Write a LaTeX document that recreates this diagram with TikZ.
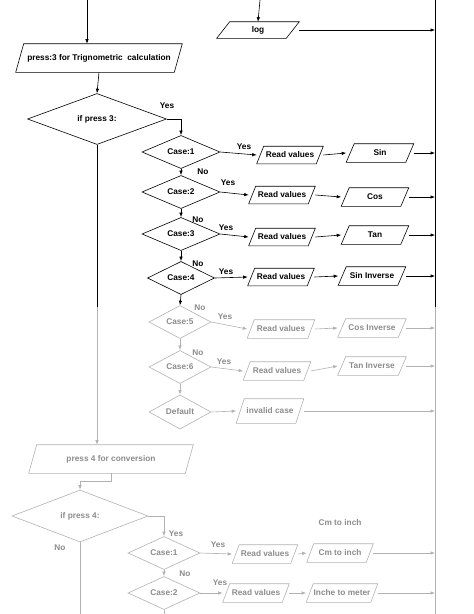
\documentclass[tikz,border=0pt]{standalone}
\usepackage{fontspec}
\setmainfont{Liberation Sans}
\usetikzlibrary{shapes.geometric,arrows.meta}
\begin{document}
\begin{tikzpicture}[x=1pt,y=-1pt,line width=0.6pt,>={Latex[length=4.5pt,width=3.5pt]},
		font=\fontsize{8.3}{9}\selectfont\bfseries,
		iobox/.style={inner sep=0pt, minimum width=66pt, minimum height=17pt,
			append after command={\pgfextra{\draw (\tikzlastnode.south west) -- ([xshift=#1]\tikzlastnode.north west) -- (\tikzlastnode.north east) -- ([xshift=-#1]\tikzlastnode.south east) -- cycle;}}},
		iobox/.default=7pt]
		\tikzstyle{decision}=[draw, diamond, inner sep=0pt, minimum width=78pt, minimum height=28pt]
		\tikzstyle{lbl}=[inner sep=0pt]
		\tikzstyle{faded}=[draw=black!30, text=black!45]
		\useasboundingbox (0,0) rectangle (474,614);
		\coordinate (topL) at (87,0);
		\coordinate (topM) at (260,0);
		\coordinate (rTop) at (435,0);
		\coordinate (rMid) at (435,307);
		\coordinate (rBot) at (435,614);
		\coordinate (fadeL) at (97,307);
		% trigonometric menu
		\node [iobox=8pt, minimum width=166pt, minimum height=28pt] (press3) at (99,58) {press:3 for Trignometric\ \ calculation};
		\node [decision, minimum width=139pt, minimum height=51pt] (ifp3) at (97,119) {if press 3:};
		\node [iobox=13pt, minimum width=82pt, minimum height=16pt] (log) at (258,30) {log};
		\node [decision] (case1) at (181,152) {Case:1};
		\node [decision] (case2) at (181,192) {Case:2};
		\node [decision, minimum height=32pt] (case3) at (181,234) {Case:3};
		\node [decision, minimum width=67pt, minimum height=33pt] (case4) at (181,278) {Case:4};
		\node [iobox] (rv1) at (290,155) {Read values};
		\node [iobox] (rv2) at (282,195) {Read values};
		\node [iobox] (rv3) at (282,237) {Read values};
		\node [iobox] (rv4) at (281,277) {Read values};
		\node [iobox=8pt, minimum width=67pt, minimum height=18pt] (sin) at (380,153) {Sin};
		\node [iobox=8pt, minimum width=67pt, minimum height=18pt] (cos) at (375,197) {Cos};
		\node [iobox=8pt, minimum width=67pt, minimum height=18pt] (tan) at (375,235) {Tan};
		\node [iobox=8pt, minimum width=67pt, minimum height=18pt] (sininv) at (372,276) {Sin Inverse};
		\draw [->] (topL) -- (topL |- press3.north);
		\draw [->] (press3.south) -- (ifp3.north);
		\draw [->] (topM) -- (log.north);
		\draw [->] (log.east) -- (log.east -| rTop);
		\draw (rTop) -- (rMid);
		\draw [->] (ifp3.east) -| (case1.north);
		\draw (ifp3.south) -- (fadeL);
		\node [lbl] (yes0) at (167,106) {Yes};
		\draw [->] (case1.south) -- (case2.north);
		\draw [->] (case2.south) -- (case3.north);
		\draw [->] (case3.south) -- (case4.north);
		\node [lbl] (no1) at (203,172) {No};
		\node [lbl] (no2) at (198,220) {No};
		\node [lbl] (no3) at (198,264) {No};
		\node [lbl] (yes1) at (244,147) {Yes};
		\node [lbl] (yes2) at (228,183) {Yes};
		\node [lbl] (yes3) at (226,228) {Yes};
		\node [lbl] (yes4) at (226,272) {Yes};
		\draw [->] (case1.east) -- (rv1.west);
		\draw [->] (case2.east) -- (rv2.west);
		\draw [->] (case3.east) -- (rv3.west);
		\draw [->] (case4.east) -- (rv4.west);
		\draw [->] (rv1.east) -- (sin.west);
		\draw [->] (rv2.east) -- (cos.west);
		\draw [->] (rv3.east) -- (tan.west);
		\draw [->] (rv4.east) -- (sininv.west);
		\draw [->] (sin.east) -- (sin.east -| rTop);
		\draw [->] (cos.east) -- (cos.east -| rTop);
		\draw [->] (tan.east) -- (tan.east -| rTop);
		\draw [->] (sininv.east) -- (sininv.east -| rTop);
		% faded lower half
		\begin{scope}[faded]
		\node [decision, minimum width=62pt, minimum height=32pt] (case5) at (180,322) {Case:5};
		\node [decision, minimum width=62pt, minimum height=32pt] (case6) at (180,367) {Case:6};
		\node [decision, minimum width=62pt, minimum height=32pt] (dflt) at (180,412) {Default};
		\node [iobox, minimum width=67pt, minimum height=18pt] (rv5) at (281,329) {Read values};
		\node [iobox, minimum width=67pt, minimum height=18pt] (rv6) at (277,371) {Read values};
		\node [iobox=8pt, minimum width=68pt, minimum height=18pt] (cosinv) at (372,328) {Cos Inverse};
		\node [iobox=8pt, minimum width=68pt, minimum height=18pt] (taninv) at (372,366) {Tan Inverse};
		\node [iobox=8pt, minimum width=67pt, minimum height=24pt] (inv) at (270,411) {invalid case};
		\node [lbl] (no4) at (200,308) {No};
		\node [lbl] (no5) at (198,353) {No};
		\node [lbl] (yes5) at (225,317) {Yes};
		\node [lbl] (yes6) at (224,362) {Yes};
		\draw [->] (case5.south) -- (case6.north);
		\draw [->] (case6.south) -- (dflt.north);
		\draw [->] (case5.east) -- (rv5.west);
		\draw [->] (case6.east) -- (rv6.west);
		\draw [->] (dflt.east) -- (inv.west);
		\draw [->] (rv5.east) -- (cosinv.west);
		\draw [->] (rv6.east) -- (taninv.west);
		\draw [->] (cosinv.east) -- (cosinv.east -| rTop);
		\draw [->] (taninv.east) -- (taninv.east -| rTop);
		\draw [->] (inv.east) -- (inv.east -| rTop);
		\draw (rMid) -- (rBot);
		% conversion menu
		\node [iobox=8pt, minimum width=164pt, minimum height=28pt] (press4) at (111,459) {press 4 for conversion};
		\node [decision, minimum width=136pt, minimum height=52pt] (ifp4) at (80,516) {if press 4:};
		\node [decision, minimum width=72pt, minimum height=27pt] (bcase1) at (164,553) {Case:1};
		\node [decision, minimum width=72pt, minimum height=27pt] (bcase2) at (164,593) {Case:2};
		\node [iobox, minimum width=65pt, minimum height=18pt] (brv1) at (265,554) {Read values};
		\node [iobox, minimum width=66pt, minimum height=18pt] (brv2) at (256,593) {Read values};
		\node [iobox, minimum width=66pt, minimum height=18pt] (cminch) at (340,553) {Cm to inch};
		\node [iobox, minimum width=71pt, minimum height=18pt] (inchm) at (342,593) {Inche to meter};
		\node [lbl] (cmnote) at (340,523) {Cm to inch};
		\node [lbl] (no6) at (60,548) {No};
		\node [lbl] (no7) at (185,574) {No};
		\node [lbl] (yes7) at (176,534) {Yes};
		\node [lbl] (yes8) at (218,545) {Yes};
		\node [lbl] (yes9) at (220,583) {Yes};
		\draw [->] (fadeL) -- (fadeL |- press4.north);
		\draw [->] (press4.south) -- ++(0,8) -| (ifp4.north);
		\draw (ifp4.south) -- (ifp4.south |- rBot);
		\draw [->] (ifp4.east) -| (bcase1.north);
		\draw [->] (bcase1.south) -- (bcase2.north);
		\draw (bcase2.south) -- (bcase2.south |- rBot);
		\draw [->] (bcase1.east) -- (brv1.west);
		\draw [->] (bcase2.east) -- (brv2.west);
		\draw [->] (brv1.east) -- (cminch.west);
		\draw [->] (brv2.east) -- (inchm.west);
		\draw [->] (cminch.east) -- (cminch.east -| rTop);
		\draw [->] (inchm.east) -- (inchm.east -| rTop);
		\end{scope}
		\draw [->] (case4.south) -- (case5.north);
\end{tikzpicture}
\end{document}
